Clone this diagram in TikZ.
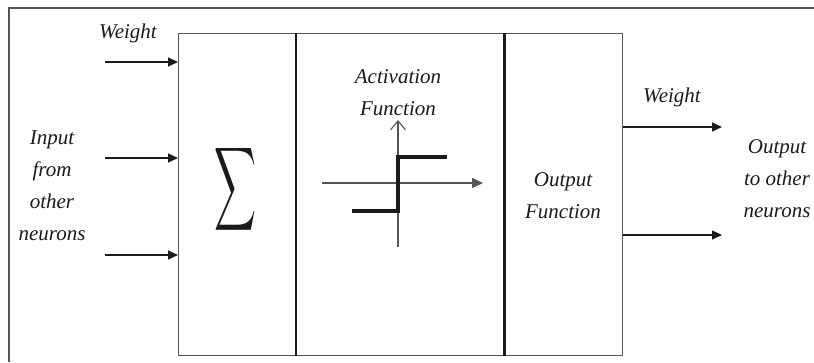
\documentclass[tikz,border=0pt]{standalone}
\usepackage{fontspec}
\setmainfont{Liberation Serif}
\usetikzlibrary{arrows.meta,positioning}
\definecolor{ink}{HTML}{1A1A1A}
\definecolor{frame}{HTML}{555555}

\begin{document}
\begin{tikzpicture}[x=1pt,y=-1pt,>=Latex,font=\fontsize{21}{32}\selectfont\itshape,text=ink,
  unit/.style={draw=frame,line width=1.4pt,minimum height=322pt,inner sep=0pt,anchor=north west},
  sig/.style={->,line width=1.3pt,draw=ink,-{Triangle[length=10pt,width=9pt]}},
  lbl/.style={align=center,inner sep=0pt}]
\useasboundingbox (0,0) rectangle (814,362);

% outer frame (cut off at right and bottom)
\draw[frame,line width=1.4pt] (9,362)--(9,8)--(814,8);

% the three units
\node[unit,minimum width=118pt] (sum) at (178,33) {};
\node[unit,minimum width=207pt] (act) at (296,33) {};
\node[unit,minimum width=119pt] (outf) at (503,33) {};
\draw[ink,line width=2.4pt] (act.north west)--(act.south west);
\draw[ink,line width=2.4pt] (act.north east)--(act.south east);
\node (sigma) at (236,189) {\resizebox{42pt}{77pt}{$\displaystyle\sum$}};

% inputs
\coordinate (in1) at (105,62);
\coordinate (in2) at (105,158);
\coordinate (in3) at (105,255);
\foreach \i in {1,2,3}{\draw[sig] (in\i)--(in\i -| sum.west);}
\node[lbl] (wtin) at (128,33) {Weight};
\node[lbl] (input) at (52,186) {Input\\from\\other\\neurons};

% activation function: step on axes
\node[lbl] (actlbl) at (398,93) {Activation\\Function};
\coordinate (ax0) at (322,183);
\coordinate (ax1) at (483,183);
\coordinate (ay0) at (398,247);
\coordinate (ay1) at (398,120);
\draw[frame,line width=1.1pt,-{Triangle[length=11pt,width=10pt]}] (ax0)--(ax1);
\draw[frame,line width=1.1pt,-{Straight Barb[length=9pt,width=15pt]}] (ay0)--(ay1);
\draw[ink,line width=3.8pt] (352,211)--(398,211)--(398,157)--(447,157);

% output function
\node[lbl] (outlbl) at (563,196) {Output\\Function};

% outputs
\coordinate (out1) at (722,127);
\coordinate (out2) at (722,235);
\foreach \i in {1,2}{\draw[sig] (out\i -| outf.east)--(out\i);}
\node[lbl] (wtout) at (672,97) {Weight};
\node[lbl] (output) at (777,179) {Output\\to other\\neurons};

\end{tikzpicture}
\end{document}
